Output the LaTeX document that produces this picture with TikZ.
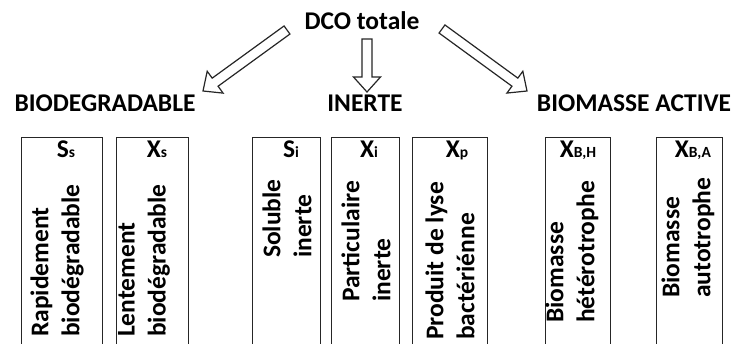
\documentclass[tikz,border=0pt]{standalone}
\usepackage{fontspec}
\setmainfont{Carlito}
\usetikzlibrary{calc}
\newcommand\smallsub[1]{{\fontsize{15.5}{15.5}\selectfont #1}}
\newcommand\hollowarrow[2]{%
  \coordinate (#1h) at ($(#2)!15pt!(#1)$);
  \draw[blockarrow] ($(#1)!5pt!90:(#2)$) -- ($(#1h)!5pt!90:(#2)$) -- ($(#1h)!13.5pt!90:(#2)$) -- (#2)
    -- ($(#1h)!13.5pt!-90:(#2)$) -- ($(#1h)!5pt!-90:(#2)$) -- ($(#1)!5pt!-90:(#2)$) -- cycle;}
\begin{document}
\begin{tikzpicture}[x=1pt,y=-1pt,
  every node/.style={font=\bfseries\fontsize{25.5}{31}\selectfont, inner sep=0pt},
  compbox/.style={draw=black!85, line width=1.3pt, anchor=north west},
  head/.style={anchor=base},
  vtext/.style={rotate=90, anchor=west, align=left},
  sublabel/.style={anchor=base},
  blockarrow/.style={draw=black!85, line width=1.2pt, fill=white, line join=miter}]
\useasboundingbox (0,0) rectangle (737,344);
\clip (0,0) rectangle (737,344);
\fill[white] (0,0) rectangle (737,344);

% title and categories
\node[head] (dco) at (362,30) {DCO totale};
\node[head] (bio) at (105,112) {BIODEGRADABLE};
\node[head] (ine) at (365,112) {INERTE};
\node[head] (act) at (634,112) {BIOMASSE ACTIVE};

% arrows
\coordinate (a1s) at (287,30); \coordinate (a1e) at (203,91);
\coordinate (a2s) at (367,39); \coordinate (a2e) at (367,92);
\coordinate (a3s) at (442,29); \coordinate (a3e) at (527,91);
\hollowarrow{a1s}{a1e}
\hollowarrow{a2s}{a2e}
\hollowarrow{a3s}{a3e}

% boxes
\node[compbox, minimum width=81, minimum height=230] (bss) at (21,137) {};
\node[compbox, minimum width=72, minimum height=230] (bxs) at (116,137) {};
\node[compbox, minimum width=68, minimum height=230] (bsi) at (252,137) {};
\node[compbox, minimum width=68, minimum height=230] (bxi) at (331,137) {};
\node[compbox, minimum width=75, minimum height=230] (bxp) at (412,137) {};
\node[compbox, minimum width=65, minimum height=230] (bxbh) at (545,137) {};
\node[compbox, minimum width=66, minimum height=230] (bxba) at (656,137) {};

% box labels
\node[sublabel] (lss) at (66,158) {S\smallsub{s}};
\node[sublabel] (lxs) at (157,158) {X\smallsub{s}};
\node[sublabel] (lsi) at (291,158) {S\smallsub{i}};
\node[sublabel] (lxi) at (369,158) {X\smallsub{i}};
\node[sublabel] (lxp) at (457,158) {X\smallsub{p}};
\node[sublabel] (lxbh) at (578,158) {X\smallsub{B,H}};
\node[sublabel] (lxba) at (693,158) {X\smallsub{B,A}};

% vertical texts
\node[vtext] (tss) at (57,337) {Rapidement\\biodégradable};
\node[vtext] (txs) at (144,337) {Lentement\\biodégradable};
\node[vtext] (tsi) at (287,258) {Soluble\\inerte};
\node[vtext] (txi) at (366,302) {Particulaire\\inerte};
\node[vtext] (txp) at (450,340) {Produit de lyse\\bactériénne};
\node[vtext] (txbh) at (572,323) {Biomasse\\hétérotrophe};
\node[vtext] (txba) at (688,298) {Biomasse\\autotrophe};
\end{tikzpicture}
\end{document}
